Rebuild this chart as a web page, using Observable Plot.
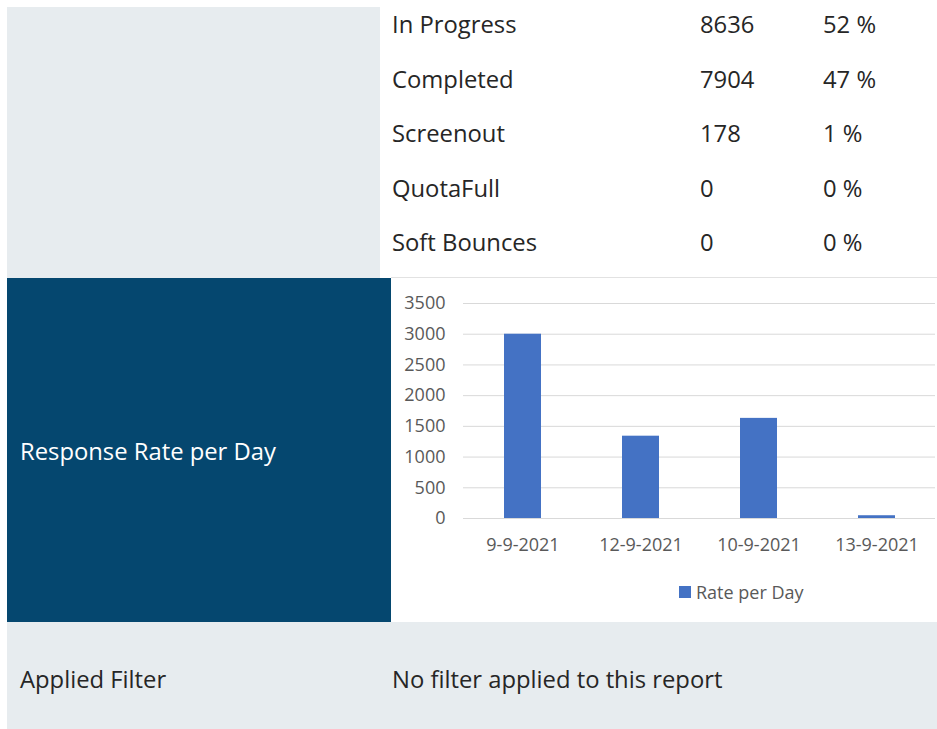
<!DOCTYPE html>
<html>
<head>
<meta charset="utf-8">
<script src="https://cdn.jsdelivr.net/npm/d3@7"></script>
<script src="https://cdn.jsdelivr.net/npm/@observablehq/plot@0.6"></script>
<style>
  html, body { margin: 0; padding: 0; background: #ffffff; overflow: hidden; }
  #page { position: relative; width: 937px; height: 729px; font-family: "Open Sans", sans-serif; color: #262626; }
  .panel { position: absolute; }
  .txt { position: absolute; white-space: nowrap; font-size: 23.8px; line-height: 32px; }
  #chart { position: absolute; left: 391px; top: 278px; width: 546px; height: 344px; }
  #legend { position: absolute; left: 679px; top: 580px; height: 24px; display: flex; align-items: center; font-size: 18px; color: #595959; white-space: nowrap; }
  #legend .sw { width: 12px; height: 12px; margin-right: 5px; }
</style>
</head>
<body>
<div id="page">
  <div class="panel" style="left:7px;top:7px;width:373px;height:271px;background:#e7ecef;"></div>
  <div class="panel" style="left:391px;top:277px;width:546px;height:1px;background:#e2e2e2;"></div>
  <div class="panel" style="left:7px;top:278px;width:384px;height:344px;background:#05476f;"></div>
  <div class="panel" style="left:7px;top:622px;width:930px;height:107px;background:#e7ecef;"></div>
  <div id="chart"></div>
  <div id="legend"></div>
</div>
<script>
// ---- data ----
const statusLabels = ["In Progress", "Completed", "Screenout", "QuotaFull", "Soft Bounces"];
const statusCounts = [8636, 7904, 178, 0, 0];
const statusPercents = ["52 %", "47 %", "1 %", "0 %", "0 %"];

const sectionTitle = "Response Rate per Day";
const days = ["9-9-2021", "12-9-2021", "10-9-2021", "13-9-2021"];
const ratePerDay = [3000, 1340, 1630, 45];
const yTicks = [0, 500, 1000, 1500, 2000, 2500, 3000, 3500];
const seriesName = "Rate per Day";
const barColor = "#4472c4";

const filterLabel = "Applied Filter";
const filterText = "No filter applied to this report";

// ---- layout text ----
const page = document.getElementById("page");
function addText(str, left, top, color) {
  const d = document.createElement("div");
  d.className = "txt";
  d.textContent = str;
  d.style.left = left + "px";
  d.style.top = top + "px";
  if (color) d.style.color = color;
  page.appendChild(d);
}
statusLabels.forEach((lab, i) => {
  const top = 8 + i * 54.5;
  addText(lab, 392, top);
  addText(String(statusCounts[i]), 700, top);
  addText(statusPercents[i], 823, top);
});
addText(sectionTitle, 20, 435, "#ffffff");
addText(filterLabel, 20, 663);
addText(filterText, 392, 663);

// ---- chart ----
const rows = days.map((d, i) => ({day: d, value: ratePerDay[i]}));
const chart = Plot.plot({
  width: 546,
  height: 344,
  marginLeft: 72,
  marginRight: 2,
  marginTop: 25,
  marginBottom: 104,
  style: {fontFamily: "Open Sans, sans-serif", fontSize: "18px", color: "#595959", background: "transparent"},
  x: {domain: days, paddingInner: 0.69, paddingOuter: 0.345, label: null, tickSize: 0, tickPadding: 20},
  y: {domain: [0, 3500], ticks: yTicks, label: null, tickSize: 0, tickPadding: 18, tickFormat: d => String(d)},
  marks: [
    Plot.ruleY(yTicks, {stroke: "#d9d9d9", strokeWidth: 1}),
    Plot.barY(rows, {x: "day", y: "value", fill: barColor}),
    Plot.axisX({tickSize: 0, tickPadding: 20, fill: "#595959"}),
    Plot.axisY({ticks: yTicks, tickSize: 0, tickPadding: 18, tickFormat: d => String(d), fill: "#595959"})
  ]
});
document.getElementById("chart").appendChild(chart);

// ---- legend ----
const legend = document.getElementById("legend");
const sw = document.createElement("div");
sw.className = "sw";
sw.style.background = barColor;
legend.appendChild(sw);
const lt = document.createElement("span");
lt.textContent = seriesName;
legend.appendChild(lt);
</script>
</body>
</html>
